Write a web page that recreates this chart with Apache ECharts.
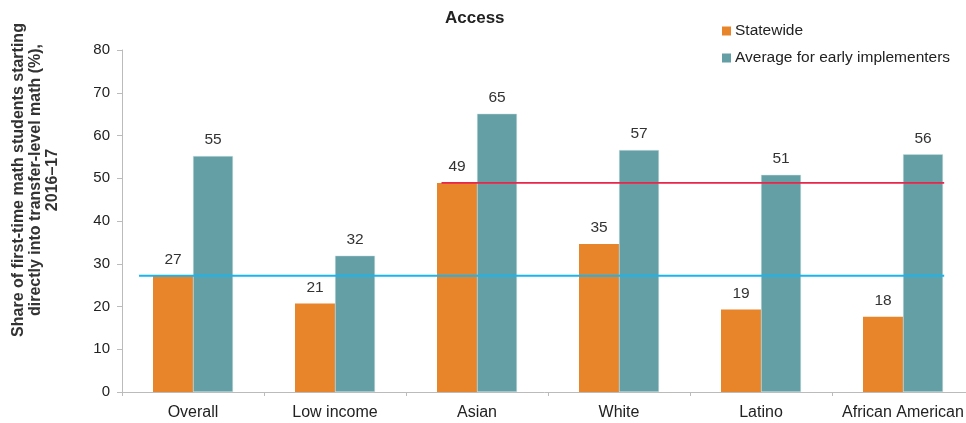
<!DOCTYPE html>
<html><head><meta charset="utf-8">
<script src="https://cdn.jsdelivr.net/npm/echarts@6/dist/echarts.min.js"></script>
<style>html,body{margin:0;padding:0;background:#fff}#c{width:966px;height:423px}</style>
</head><body><div id="c"></div>
<script>
const categories = ['Overall', 'Low income', 'Asian', 'White', 'Latino', 'African American'];
const statewide = [27.2, 20.7, 48.9, 34.6, 19.3, 17.6];
const earlyImplementers = [55.2, 31.9, 65.1, 56.6, 50.8, 55.6];
const yTicks = [0, 10, 20, 30, 40, 50, 60, 70, 80];
const yTitle = 'Share of first-time math students starting\ndirectly into transfer-level math (%),\n2016–17';
// reference lines: level taken from statewide series; span in category units
const overallRefSpan = [0.12, 5.79];
const asianRefSpan = [2.25, 5.79];

const chart = echarts.init(document.getElementById('c'));
const font = 'Liberation Sans, Arial, Helvetica, sans-serif';
const lbl = {show: true, position: 'top', distance: 8, color: '#333', fontSize: 15.5, fontFamily: font,
  formatter: p => Math.round(p.value)};
chart.setOption({
  animation: false,
  textStyle: {fontFamily: font},
  title: {text: 'Access', left: 440, top: 5,
    textStyle: {fontSize: 17, fontWeight: 'bold', color: '#222', fontFamily: font}},
  legend: {orient: 'vertical', left: 717, top: 18, itemWidth: 9, itemHeight: 9, itemGap: 11,
    icon: 'rect', data: ['Statewide', 'Average for early implementers'],
    itemStyle: {borderWidth: 0},
    textStyle: {fontSize: 15.5, color: '#222', fontFamily: font, padding: [0, 0, 0, -1]}},
  graphic: [{type: 'text', x: 36, y: 180, rotation: Math.PI / 2,
    style: {text: yTitle, align: 'center', verticalAlign: 'middle', fontSize: 16, fontWeight: 'bold',
      fill: '#333', lineHeight: 17, fontFamily: font}}],
  grid: {left: 122, top: 50, width: 852, height: 342, outerBoundsMode: 'none'},
  xAxis: [{type: 'category', data: categories,
    axisLine: {lineStyle: {color: '#bbb'}},
    axisTick: {show: true, length: 4, interval: 0, lineStyle: {color: '#bbb'}},
    axisLabel: {color: '#222', fontSize: 16, margin: 13, interval: 0, fontFamily: font}},
   {type: 'value', min: 0, max: 6, show: false}],
  yAxis: {type: 'value', min: yTicks[0], max: yTicks[yTicks.length - 1], interval: 10,
    axisLine: {show: true, lineStyle: {color: '#bbb'}},
    axisTick: {show: true, length: 5, lineStyle: {color: '#bbb'}},
    splitLine: {show: false},
    axisLabel: {color: '#222', fontSize: 15, margin: 12, fontFamily: font}},
  series: [
    {name: 'Statewide', type: 'bar', data: statewide, barWidth: 40, barGap: '0%',
     itemStyle: {color: '#E8842A'}, label: lbl},
    {name: 'Average for early implementers', type: 'bar', data: earlyImplementers, barWidth: 40,
     itemStyle: {color: '#639FA5', borderColor: '#cfe3e5', borderWidth: 0.5}, label: lbl},
    {name: 'overallRef', type: 'line', xAxisIndex: 1, symbol: 'none', silent: true,
     data: overallRefSpan.map(x => [x, statewide[0]]), lineStyle: {color: '#19B5F0', width: 2}, z: 5},
    {name: 'asianRef', type: 'line', xAxisIndex: 1, symbol: 'none', silent: true,
     data: asianRefSpan.map(x => [x, statewide[2]]), lineStyle: {color: '#E8254A', width: 1.8}, z: 5}
  ]
});
</script></body></html>
